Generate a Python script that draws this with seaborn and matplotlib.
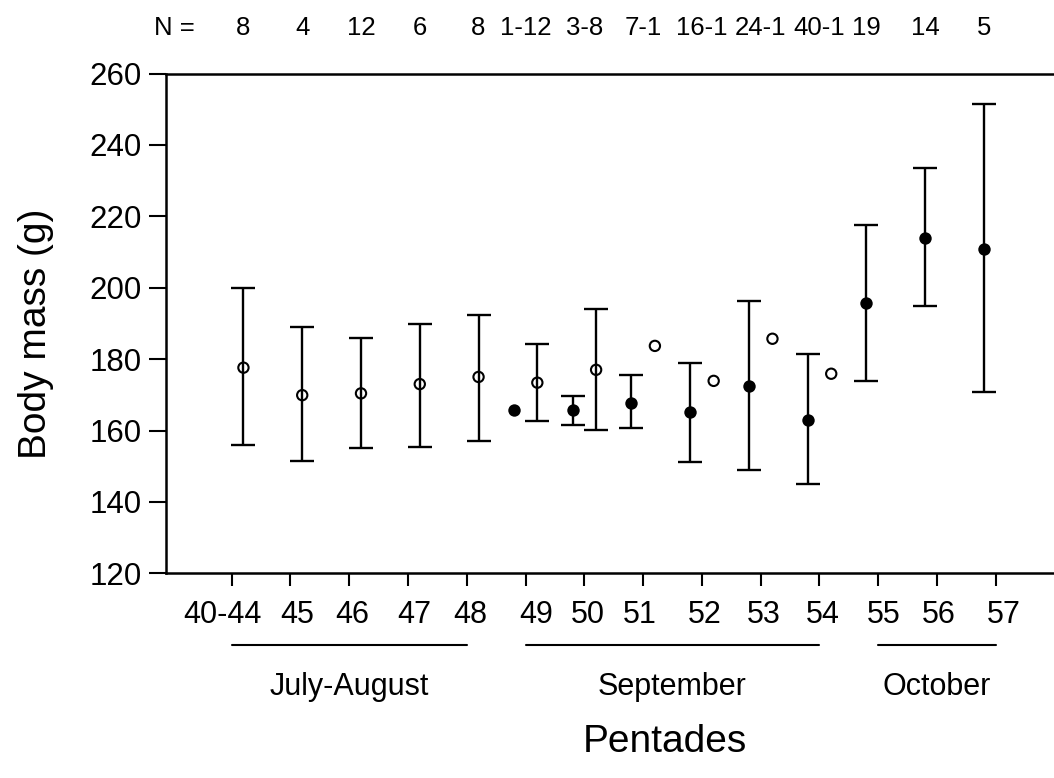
import numpy as np
import pandas as pd
import matplotlib
matplotlib.use('Agg')
import matplotlib.pyplot as plt
import matplotlib.transforms as mtransforms
import seaborn as sns

# pentade categories along the x axis
pentades = ['40-44', '45', '46', '47', '48', '49', '50', '51', '52', '53', '54', '55', '56', '57']

# open circles: pentades 40-44 .. 54
open_idx = [0, 1, 2, 3, 4, 5, 6, 7, 8, 9, 10]
open_mean = [177.6, 169.9, 170.4, 173.0, 175.0, 173.4, 177.0, 183.7, 173.9, 185.7, 175.9]
open_lo = [155.9, 151.5, 155.0, 155.5, 157.1, 162.7, 160.1, np.nan, np.nan, np.nan, np.nan]
open_hi = [199.8, 188.9, 185.8, 189.9, 192.4, 184.3, 193.9, np.nan, np.nan, np.nan, np.nan]
open_n = ['8', '4', '12', '6', '8', '12', '8', '1', '1', '1', '1']

# filled circles: pentades 49 .. 57
filled_idx = [5, 6, 7, 8, 9, 10, 11, 12, 13]
filled_mean = [165.7, 165.7, 167.7, 165.1, 172.4, 163.0, 195.8, 213.9, 210.8]
filled_lo = [np.nan, 161.6, 160.6, 151.3, 148.8, 145.1, 173.9, 194.9, 170.7]
filled_hi = [np.nan, 169.8, 175.5, 178.9, 196.4, 181.5, 217.5, 233.4, 251.4]
filled_n = ['1', '3', '7', '16', '24', '40', '19', '14', '5']

# month groups (first and last pentade index)
months = ['July-August', 'September', 'October']
month_start = [0, 5, 11]
month_end = [4, 10, 13]

shift = 0.2
df_open = pd.DataFrame({'x': np.array(open_idx) + shift, 'mean': open_mean,
                        'lo': open_lo, 'hi': open_hi})
df_filled = pd.DataFrame({'x': np.array(filled_idx) - shift, 'mean': filled_mean,
                          'lo': filled_lo, 'hi': filled_hi})

sns.set_theme(style='ticks')
plt.rcParams['font.family'] = ['Liberation Sans', 'DejaVu Sans']
plt.rcParams['axes.linewidth'] = 1.8
plt.rcParams['text.color'] = 'black'

W, H = 1054, 778
fig = plt.figure(figsize=(W / 100, H / 100), dpi=100)
ax = fig.add_axes([165.5 / W, 1 - 573.3 / H, (W - 165.5) / W, (573.3 - 73.5) / H])

# error bars
for d in (df_open, df_filled):
    e = d.dropna()
    ax.errorbar(e['x'], e['mean'], yerr=[e['mean'] - e['lo'], e['hi'] - e['mean']],
                fmt='none', ecolor='black', elinewidth=1.7, capsize=8.5, capthick=1.7)

sns.scatterplot(data=df_filled, x='x', y='mean', marker='o', s=80, color='black',
                edgecolor='black', linewidth=0, ax=ax, zorder=3)
sns.scatterplot(data=df_open, x='x', y='mean', marker='o', s=55, facecolor='none',
                edgecolor='black', linewidth=1.5, ax=ax, zorder=3)

ax.set_xlim(-1.126, 13.99)
ax.set_ylim(120, 260)
ax.set_yticks(range(120, 261, 20))
ax.set_xticks(range(len(pentades)))
ax.set_xticklabels(pentades)
ax.set_xlabel('')
ax.set_ylabel('')
ax.spines['right'].set_visible(False)
for s in ('left', 'top', 'bottom'):
    ax.spines[s].set_color('black')
ax.tick_params(axis='x', length=9.4, width=1.5, pad=10, labelsize=22, colors='black')
ax.tick_params(axis='y', length=12.2, width=1.5, pad=5, labelsize=22.5, colors='black')

# small horizontal nudges of the tick labels, as in the original figure (pixels)
label_nudge = [-9, 7, 3, 6, 3, 11, 3, -3, 3, 3, 3, 5, 2, 8]
for lab, dx in zip(ax.get_xticklabels(), label_nudge):
    lab.set_transform(lab.get_transform() + mtransforms.ScaledTranslation(dx / 100, 0, fig.dpi_scale_trans))

# N labels above the plot
trans = mtransforms.blended_transform_factory(ax.transData, ax.transAxes)
ax.text(-0.98, 1.091, 'N =', transform=trans, ha='center', va='center', fontsize=18.5)
n_open = dict(zip(open_idx, open_n))
n_filled = dict(zip(filled_idx, filled_n))
for i in range(len(pentades)):
    if i in n_open and i in n_filled:
        txt, xpos = n_filled[i] + '-' + n_open[i], i
    elif i in n_open:
        txt, xpos = n_open[i], i + shift
    else:
        txt, xpos = n_filled[i], i - shift
    ax.text(xpos, 1.091, txt, transform=trans, ha='center', va='center', fontsize=18.5)

# month underlines and labels
for name, a, b in zip(months, month_start, month_end):
    ax.plot([a, b], [-0.1435, -0.1435], transform=trans, color='black', lw=1.5, clip_on=False)
    ax.text((a + b) / 2, -0.227, name, transform=trans, ha='center', va='center', fontsize=22)

fig.text(36 / W, 1 - 334 / H, 'Body mass (g)', rotation=90, ha='center', va='center', fontsize=28)
fig.text(665 / W, 1 - 742 / H, 'Pentades', ha='center', va='center', fontsize=28)

fig.savefig('out.png', dpi=100)
